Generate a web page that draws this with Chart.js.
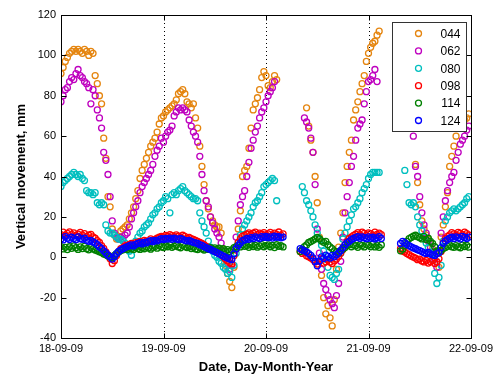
<!DOCTYPE html>
<html>
<head>
<meta charset="utf-8">
<title>Vertical movement</title>
<script src="https://cdn.jsdelivr.net/npm/chart.js@4/dist/chart.umd.min.js"></script>
<style>
  html, body { margin: 0; padding: 0; background: #fff; }
  canvas { display: block; }
</style>
</head>
<body>
<canvas id="movementChart" width="499" height="376"></canvas>
<script>
// Readings every 30 minutes, 18-09-09 00:00 to 21-09-09 23:30 (null = no reading)
const SAMPLES_PER_DAY = 48;

const dateLabels = ['18-09-09', '19-09-09', '20-09-09', '21-09-09', '22-09-09'];
const yTickValues = [-40, -20, 0, 20, 40, 60, 80, 100, 120];

const gauge044 = [
  91, 94, 97, 99, 101, 102, 103, 102, 103, 102, 101, 103,
  102, 100, 102, 101, 90, 86, 80, 76, 59, 49, 30, 25,
  14, 11, 9, 10, 13, 14, 15, 16, 19, 22, 25, 29,
  33, 39, 43, 46, 49, 52, 55, 57, 59, 62, 66, 69,
  70, 72, 73, 74, 75, 76, 78, 81, 82, 83, 81, 77,
  76, 74, 76, 69, 64, 55, 45, 36, 28, 24, 20, 18,
  16, 15, 15, 12, 4, -4, -8, -12, -15, -5, 5, 14,
  23, 40, 43, 45, 54, 64, 73, 76, 79, 83, 89, 92,
  90, 85, 84, 87, 90, 88, null, null, null, null, null, null,
  null, null, null, null, null, null, null, 74, 65, 58, 52, 40,
  27, 10, -9, -20, -28, -24, -30, -34, -21, -6, 5, 12,
  22, 37, 45, 52, 58, 68, 73, 77, 82, 86, 90, 97,
  101, 104, 106, 107, 110, 112, null, null, null, null, null, null,
  null, null, null, null, null, null, null, null, null, null, 46, 37,
  26, 18, 14, 11, 9, 7, 4, 1, -2, -5, 10, 16,
  25, 32, 45, 50, 55, 60, 64, 66, 67, 68, 69, 71
];

const gauge062 = [
  77, 80, 83, 84, 87, 89, 88, 91, 93, 90, 89, 87,
  86, 84, 76, 83, 80, 73, 69, 64, 52, 48, 41, 30,
  18, 12, 10, 9, 10, 9, 11, 12, 15, 19, 22, 25,
  28, 32, 35, 37, 39, 41, 43, 46, 50, 53, 55, 59,
  57, 60, 62, 63, 65, 70, 72, 74, 73, 74, 73, 72,
  68, 65, 62, 60, 57, 50, 41, 33, 28, 25, 20, 17,
  14, 12, 10, 7, 3, 0, -3, -6, -4, 2, 10, 18,
  26, 30, 33, 40, 47, 54, 58, 62, 65, 69, 72, 74,
  77, 80, 82, 84, 87, null, null, null, null, null, null, null,
  null, null, null, null, null, null, 69, 67, 64, 59, 52, 36,
  14, 2, -6, -13, -16, -19, -21, -23, -25, -19, -13, -2,
  10, 22, 30, 37, 45, 50, 58, 64, 66, 68, 76, 82,
  87, 88, 90, 93, 87, null, null, null, null, null, null, null,
  null, null, null, null, null, null, null, null, 64, 60, 45, 40,
  30, 22, 16, 12, 8, 5, 2, -1, -5, 3, 12, 20,
  28, 33, 37, 40, 42, 48, 52, 56, 58, 60, 63, 65
];

const gauge080 = [
  35, 37, 38, 39, 40, 41, 42, 41, 40, 41, 39, 38,
  33, 32, 32, 31, 32, 27, 26, 27, 26, 16, 13, 12,
  12, 11, 10, 9, 9, 8, 7, 5, 3, 1, 5, 8,
  10, 12, 13, 15, 16, 17, 19, 21, 22, 24, 25, 27,
  28, 30, 29, 22, 31, 32, 31, 33, 34, 35, 33, 32,
  31, 30, 29, 29, 28, 22, 18, 15, 12, 8, 5, 3,
  1, 0, -2, -3, -5, -6, -8, -7, -10, -4, 2, 7,
  11, 14, 16, 18, 20, 22, 25, 27, 28, 30, 32, 35,
  36, 37, 38, 39, 38, 28, null, null, null, null, null, null,
  null, null, null, null, null, 35, 32, 28, 26, 23, 20, 16,
  12, 9, 6, 3, -1, -5, -9, -10, -11, -8, -6, 2,
  9, 12, 15, 18, 21, 24, 25, 27, 29, 32, 34, 36,
  39, 41, 42, 42, 42, 42, null, null, null, null, null, null,
  null, null, null, null, null, 43, 36, 27, 26, 27, 25, 20,
  16, 13, 10, 7, 5, 2, -1, -8, -13, -10, -4, 8,
  18, 20, 22, 23, 24, 23, 24, 25, 26, 27, 29, 30
];

const gauge098 = [
  11.2, 12.4, 10.9, 11.8, 12.6, 11.3, 12.1, 10.8, 11.5, 12.3, 11.0, 11.7,
  10.2, 10.9, 11.3, 10.1, 9.4, 8.2, 7.3, 5.8, 4.4, 2.6, 1.2, -0.8,
  -3.1, -1.7, 0.9, 2.8, 4.3, 4.7, 5.6, 5.9, 6.4, 6.8, 6.1, 7.2,
  7.4, 7.9, 7.1, 8.3, 8.0, 7.6, 9.1, 8.4, 8.8, 9.5, 9.9, 10.3,
  10.1, 10.8, 10.4, 11.2, 10.7, 10.2, 11.1, 10.5, 9.9, 10.9, 10.3, 9.4,
  9.8, 9.2, 8.9, 8.4, 7.9, 7.3, 6.8, 6.2, 5.4, 4.9, 4.2, 3.8,
  3.1, 2.6, 1.9, 1.2, 0.3, -0.9, -1.8, -2.7, -3.2, 0.8, 4.1, 7.3,
  9.1, 10.4, 10.8, 11.5, 12.1, 11.3, 11.9, 12.4, 11.2, 12.0, 11.4, 12.2,
  11.1, 11.6, 12.3, 10.9, 12.0, 11.3, 12.5, 11.0, 11.6, null, null, null,
  null, null, null, null, 2.8, 1.9, 2.4, 0.7, 0.2, -0.4, -1.1, -2.3,
  -3.4, -2.1, -0.8, -2.9, -2.2, -1.3, -2.4, -3.1, -1.8, -0.9, 0.4, 2.1,
  3.9, 6.2, 7.8, 9.3, 10.1, 10.8, 11.4, 12.2, 11.1, 12.4, 11.8, 10.9,
  12.1, 11.7, 11.0, 12.4, 11.3, 12.0, 11.2, null, null, null, null, null,
  null, null, null, 4.2, 3.1, 2.6, 1.8, 1.3, 0.6, 0.1, -0.4, -1.2,
  -0.9, -1.8, -2.3, -1.6, -2.9, -2.2, -1.7, -3.1, -2.4, -0.8, 2.9, 7.1,
  9.2, 10.3, 11.1, 12.2, 11.6, 10.9, 12.3, 11.8, 11.2, 12.4, 11.7, 11.0
];

const gauge114 = [
  5.3, 4.1, 4.9, 3.8, 5.2, 4.4, 5.6, 4.7, 3.9, 5.1, 4.3, 5.4,
  4.2, 3.7, 4.8, 4.1, 3.6, 3.2, 2.7, 2.3, 1.6, 1.2, 0.6, 0.1,
  -0.2, 0.9, 1.8, 2.6, 3.3, 3.7, 4.1, 3.8, 4.6, 4.2, 3.9, 4.8,
  4.3, 3.9, 4.7, 4.2, 5.1, 4.6, 4.0, 4.9, 5.3, 4.5, 5.8, 5.1,
  4.8, 5.7, 5.2, 6.1, 4.9, 5.4, 6.0, 5.1, 4.7, 5.9, 5.3, 4.8,
  5.2, 4.3, 4.9, 4.1, 3.8, 4.7, 4.2, 3.6, 4.4, 3.9, 4.8, 4.1,
  4.6, 3.9, 4.5, 3.7, 4.2, 3.1, 3.8, 2.9, 3.6, 4.8, 5.2, 5.9,
  5.1, 6.2, 5.4, 5.8, 4.9, 6.1, 5.3, 5.9, 5.0, 5.6, 6.3, 5.2,
  5.8, 6.1, 5.2, 5.9, 4.8, 6.2, 5.4, 5.7, 5.1, null, null, null,
  null, null, null, null, 2.8, 3.9, 5.2, 6.1, 7.3, 7.8, 8.4, 9.1,
  9.8, 9.2, 8.1, 7.4, 7.9, 6.2, 5.1, 4.3, 3.2, 2.8, 2.1, 3.3,
  4.1, 4.8, 5.9, 6.3, 5.2, 6.1, 5.7, 4.9, 6.2, 5.8, 5.1, 6.3,
  5.9, 5.2, 6.4, 5.1, 5.8, 4.9, 6.1, null, null, null, null, null,
  null, null, null, 3.2, 4.1, 5.8, 7.9, 9.2, 9.8, 10.4, 10.9, 10.2,
  9.7, 9.1, 10.3, 8.8, 9.4, 7.9, 6.8, 5.2, 3.1, 2.2, 3.4, 4.3,
  4.8, 5.4, 6.1, 5.2, 4.9, 5.8, 5.1, 4.7, 6.0, 5.3, 5.9, 5.0
];

const gauge124 = [
  9.1, 8.6, 10.2, 9.4, 8.8, 9.9, 9.3, 8.7, 10.1, 9.2, 8.9, 9.5,
  8.4, 7.9, 8.3, 7.6, 7.1, 6.2, 5.1, 4.3, 3.2, 2.1, 1.0, 0.2,
  -0.9, 0.3, 1.8, 2.9, 3.7, 4.2, 4.8, 5.3, 5.7, 6.1, 5.6, 6.4,
  6.8, 7.2, 6.6, 7.4, 7.1, 7.8, 8.2, 7.7, 8.4, 8.1, 8.7, 9.2,
  8.8, 9.3, 9.0, 9.5, 8.9, 9.4, 9.1, 8.7, 9.3, 8.9, 8.4, 8.1,
  8.3, 7.8, 7.4, 7.1, 6.8, 6.2, 5.9, 5.3, 4.8, 4.2, 3.9, 3.3,
  2.8, 2.3, 1.7, 1.2, 0.6, 0.1, -0.4, -0.9, -1.1, 1.7, 4.2, 5.8,
  7.1, 8.2, 8.6, 9.3, 8.9, 9.7, 9.2, 10.1, 9.6, 9.3, 10.2, 9.8,
  10.3, 9.7, 10.1, 9.5, 10.4, 9.9, 10.2, 9.6, 10.0, null, null, null,
  null, null, null, null, 4.3, 3.6, 3.2, 2.6, 1.8, 0.9, -0.3, -2.1,
  -4.2, -1.8, 0.2, -0.6, 1.1, 0.3, -0.4, 0.9, 0.2, 1.3, 2.2, 3.4,
  4.8, 6.1, 7.2, 7.9, 8.8, 9.3, 9.8, 10.2, 9.4, 10.1, 9.7, 9.2,
  10.1, 9.4, 9.9, 9.1, 9.6, 10.2, 9.3, null, null, null, null, null,
  null, null, null, 6.8, 7.9, 7.2, 6.3, 5.8, 5.1, 4.6, 4.2, 3.7,
  3.3, 2.8, 2.2, 1.9, 2.4, 1.7, 1.2, 0.9, 1.8, 2.3, 4.8, 6.9,
  8.1, 8.8, 9.4, 9.9, 9.2, 10.1, 9.7, 9.1, 10.3, 9.8, 9.3, 10.0
];

const gauges = [
  { label: '044', values: gauge044, color: '#E5850F' },
  { label: '062', values: gauge062, color: '#BF00BF' },
  { label: '080', values: gauge080, color: '#00BFBF' },
  { label: '098', values: gauge098, color: '#FF0000' },
  { label: '114', values: gauge114, color: '#008000' },
  { label: '124', values: gauge124, color: '#0000FF' }
];

const FONT = "'Liberation Sans', Arial, Helvetica, sans-serif";

// sample index -> days since 18-09-09
function toPoints(values) {
  return values.map((v, i) => ({ x: i / SAMPLES_PER_DAY, y: v }));
}

// Boxed axes with inward ticks, dotted day grid and a framed legend
const axesFrame = {
  id: 'axesFrame',
  beforeDatasetsDraw(chart) {
    const { ctx, chartArea: a, scales: { x } } = chart;
    ctx.save();
    ctx.strokeStyle = '#000';
    ctx.lineWidth = 1;
    ctx.setLineDash([1, 3]);
    for (let d = 1; d < dateLabels.length - 1; d++) {
      const px = Math.round(x.getPixelForValue(d)) + 0.5;
      ctx.beginPath();
      ctx.moveTo(px, a.top);
      ctx.lineTo(px, a.bottom);
      ctx.stroke();
    }
    ctx.restore();
  },
  afterDatasetsDraw(chart) {
    const { ctx, chartArea: a, scales: { x, y } } = chart;
    const l = Math.round(a.left) + 0.5, r = Math.round(a.right) + 0.5;
    const t = Math.round(a.top) + 0.5, b = Math.round(a.bottom) + 0.5;
    ctx.save();
    ctx.strokeStyle = '#000';
    ctx.lineWidth = 1;
    ctx.strokeRect(l, t, r - l, b - t);
    ctx.beginPath();
    yTickValues.forEach(v => {
      const py = Math.round(y.getPixelForValue(v)) + 0.5;
      ctx.moveTo(l, py); ctx.lineTo(l + 5, py);
      ctx.moveTo(r, py); ctx.lineTo(r - 5, py);
    });
    dateLabels.forEach((_, d) => {
      const px = Math.round(x.getPixelForValue(d)) + 0.5;
      ctx.moveTo(px, b); ctx.lineTo(px, b - 5);
      ctx.moveTo(px, t); ctx.lineTo(px, t + 5);
    });
    ctx.stroke();
    ctx.restore();
  },
  afterDraw(chart) {
    const { ctx, chartArea: a } = chart;
    const w = 74, h = 109;
    const bx = Math.round(a.right) - 5 - w + 0.5;
    const by = Math.round(a.top) + 7 + 0.5;
    ctx.save();
    ctx.fillStyle = '#fff';
    ctx.fillRect(bx, by, w, h);
    ctx.strokeStyle = '#333';
    ctx.lineWidth = 1;
    ctx.strokeRect(bx, by, w, h);
    ctx.font = '12px ' + FONT;
    ctx.textAlign = 'right';
    ctx.textBaseline = 'middle';
    chart.data.datasets.forEach((ds, k) => {
      const ry = by + 11 + k * 17.4;
      ctx.beginPath();
      ctx.strokeStyle = ds.borderColor;
      ctx.lineWidth = 1.3;
      ctx.arc(bx + 26, ry, 3, 0, Math.PI * 2);
      ctx.stroke();
      ctx.fillStyle = '#000';
      ctx.fillText(ds.label, bx + w - 6, ry + 1);
    });
    ctx.restore();
  }
};

new Chart(document.getElementById('movementChart'), {
  type: 'scatter',
  data: {
    datasets: gauges.map((g, k) => ({
      label: g.label,
      data: toPoints(g.values),
      borderColor: g.color,
      backgroundColor: 'rgba(0,0,0,0)',
      pointRadius: 3,
      pointHoverRadius: 3,
      pointBorderWidth: 1.3,
      order: gauges.length - k
    }))
  },
  options: {
    responsive: false,
    animation: false,
    events: [],
    layout: { padding: { top: 15, right: 28, left: 0, bottom: 0 } },
    plugins: {
      legend: { display: false },
      tooltip: { enabled: false }
    },
    scales: {
      x: {
        type: 'linear',
        min: 0,
        max: dateLabels.length - 1,
        afterBuildTicks: axis => { axis.ticks = dateLabels.map((_, d) => ({ value: d })); },
        afterFit: axis => { axis.height = 38; },
        grid: { display: false, drawTicks: false },
        border: { display: false },
        ticks: {
          autoSkip: false,
          maxRotation: 0,
          padding: 4,
          color: '#000',
          font: { family: FONT, size: 11 },
          callback: v => dateLabels[v]
        },
        title: {
          display: true,
          text: 'Date, Day-Month-Year',
          color: '#000',
          padding: { top: 0, bottom: 1 },
          font: { family: FONT, size: 13, weight: 'bold' }
        }
      },
      y: {
        min: -40,
        max: 120,
        afterBuildTicks: axis => { axis.ticks = yTickValues.map(v => ({ value: v })); },
        afterFit: axis => { axis.width = 61; },
        grid: { display: false, drawTicks: false },
        border: { display: false },
        ticks: {
          padding: 5,
          color: '#000',
          font: { family: FONT, size: 11 }
        },
        title: {
          display: true,
          text: 'Vertical movement, mm',
          color: '#000',
          padding: { top: 14, bottom: 0 },
          font: { family: FONT, size: 13, weight: 'bold' }
        }
      }
    }
  },
  plugins: [axesFrame]
});
</script>
</body>
</html>
